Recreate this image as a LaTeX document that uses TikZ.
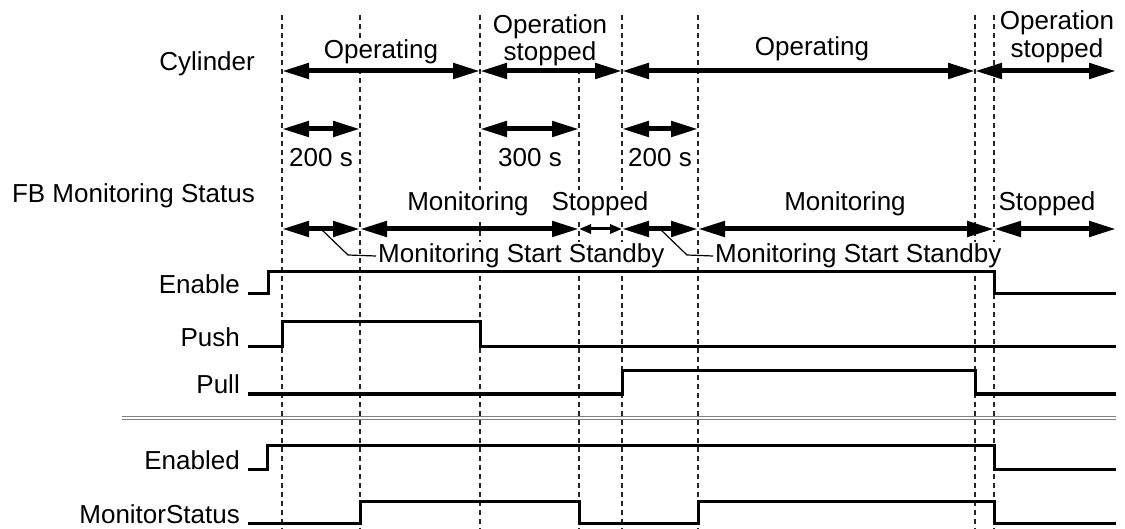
\documentclass[tikz,border=0pt]{standalone}
\usepackage{fontspec}
\setmainfont{Liberation Sans}
\usetikzlibrary{arrows.meta,positioning,calc}

\begin{document}
\begin{tikzpicture}[x=1pt,y=-1pt,font=\fontsize{26}{27.5}\selectfont,
  tline/.style={line width=1.2pt,black!85,dash pattern=on 5pt off 4pt},
  sig/.style={line width=3pt},
  span/.style={line width=5pt,{Triangle[length=27pt,width=15pt]}-{Triangle[length=27pt,width=15pt]}},
  shortspan/.style={line width=3pt,{Triangle[length=12pt,width=9pt]}-{Triangle[length=12pt,width=9pt]}},
  lead/.style={line width=1.2pt},
  lbl/.style={anchor=base east,inner sep=0pt},
  txt/.style={anchor=base,fill=white,inner sep=2pt},
  twoline/.style={anchor=south,fill=white,inner sep=2pt,align=center}]
\useasboundingbox (0,0) rectangle (1125,529);
\foreach \n/\x in {a/282,b/360,c/480,d/579,e/622,f/698,g/975,h/994,z/1116}
  \coordinate (\n) at (\x,0);
\foreach \n/\y in {top/15,bot/529,cyl/71,dur/129,mon/229,sep/418,enH/271.5,puH/322,plH/371,edH/445,msH/501}
  \coordinate (\n) at (0,\y);
\foreach \n in {a,b,c,d,e,f,g,h} \draw[tline] (\n|-top) -- (\n|-bot);

\node[lbl] (cylinder) at (255,71) {Cylinder};
\node[lbl] (fbstat) at (255,203) {FB Monitoring Status};
\node[txt] (op1) at (381,59) {Operating};
\node[twoline] (os1) at (550,68.5) {Operation\\stopped};
\node[txt] (op2) at (812,56) {Operating};
\node[twoline] (os2) at (1057,65) {Operation\\stopped};
\node[txt] (d1) at (321,167) {200 s};
\node[txt] (d2) at (530,167) {300 s};
\node[txt] (d3) at (660,167) {200 s};
\node[txt] (mo1) at (468,211) {Monitoring};
\node[txt] (st1) at (600,211) {Stopped};
\node[txt] (mo2) at (845,211) {Monitoring};
\node[txt] (st2) at (1047,211) {Stopped};

\foreach \p/\q in {a/c,c/e,e/g,g/z} \draw[span] (\p|-cyl) -- (\q|-cyl);
\foreach \p/\q in {a/b,c/d,e/f} \draw[span] (\p|-dur) -- (\q|-dur);
\foreach \p/\q in {a/b,b/d,e/f,f/h,h/z} \draw[span] (\p|-mon) -- (\q|-mon);
\draw[shortspan] (d|-mon) -- (e|-mon);

\node[anchor=west,fill=white,inner sep=2pt] (mss1) at (376,256) {Monitoring Start Standby};
\node[anchor=west,fill=white,inner sep=2pt] (mss2) at (713,256) {Monitoring Start Standby};
\coordinate (sb1) at ($(a|-mon)!.5!(b|-mon)$);
\coordinate (sb2) at ($(e|-mon)!.5!(f|-mon)$);
\draw[lead] (sb1) -- ++(27,26) -- (mss1.west);
\draw[lead] (sb2) -- ++(27,26) -- (mss2.west);

\node[lbl] (enable) at (240,294) {Enable};
\node[lbl] (push) at (240,347) {Push};
\node[lbl] (pull) at (240,394) {Pull};
\node[lbl] (enabled) at (240,469) {Enabled};
\node[lbl] (monstat) at (240,523.5) {MonitorStatus};
\draw[sig] ([xshift=8pt]enable.base east) -- ++(20,0) |- (h|-enH) -- (h|-enable.base) -- (z|-enable.base);
\draw[sig] ([xshift=8pt]push.base east) -| (a|-puH) -| (c|-push.base) -- (z|-push.base);
\draw[sig] ([xshift=8pt]pull.base east) -| (e|-plH) -| (g|-pull.base) -- (z|-pull.base);
\draw[black!50,line width=1.3pt,double=white,double distance=2.3pt] (122,0|-sep) -- (z|-sep);
\draw[sig] ([xshift=8pt]enabled.base east) -- ++(19,0) |- (h|-edH) -- (h|-enabled.base) -- (z|-enabled.base);
\draw[sig] ([xshift=8pt]monstat.base east) -| (b|-msH) -| (d|-monstat.base) -| (f|-msH) -| (h|-monstat.base) -- (z|-monstat.base);
\end{tikzpicture}
\end{document}
